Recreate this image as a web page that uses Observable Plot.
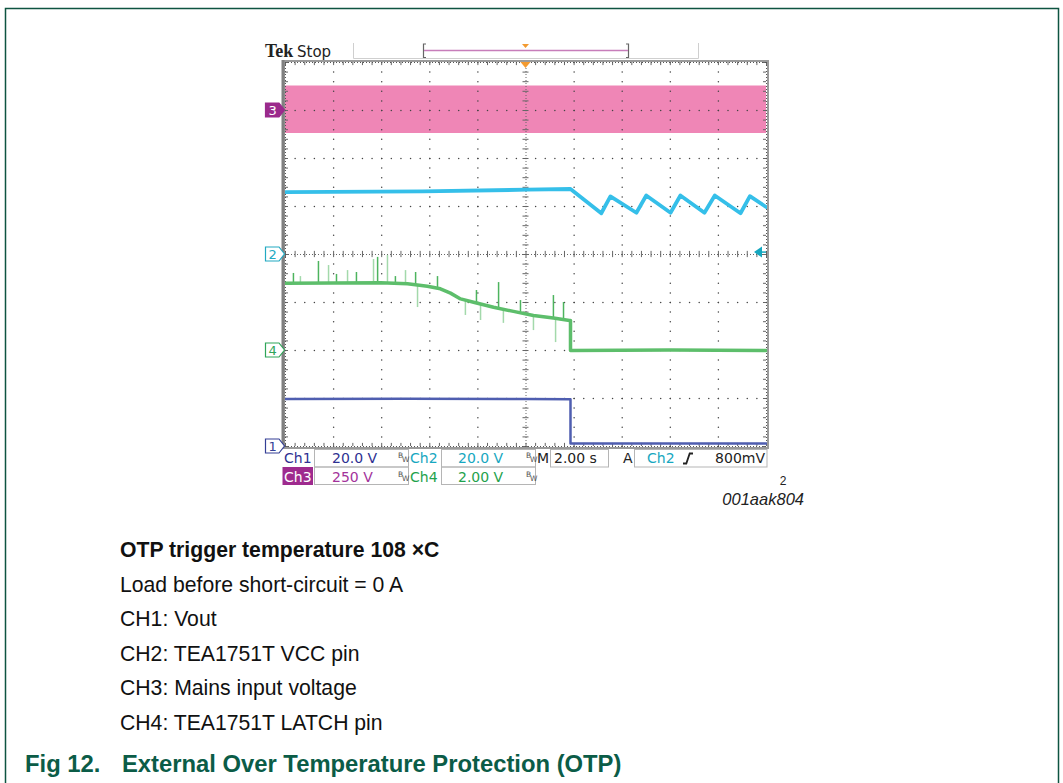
<!DOCTYPE html>
<html><head><meta charset="utf-8">
<script src="https://cdn.jsdelivr.net/npm/d3@7"></script>
<script src="https://cdn.jsdelivr.net/npm/@observablehq/plot@0.6"></script>
<style>
html,body{margin:0;padding:0;background:#fff;}
#page{position:relative;width:1063px;height:783px;overflow:hidden;background:#fff;}
#page svg{position:absolute;left:0;top:0;}
</style></head><body><div id="page"></div>
<script>
// ---------- scope settings ----------
const channels = ["Ch1", "Ch2", "Ch3", "Ch4"];
const voltsPerDiv = [20, 20, 250, 2];
const offsetDiv = [-4, 0, 3, -2];
const secPerDiv = 2;
const triggerLevel = 0.8; // V on Ch2
const voltLabels = ["20.0 V", "20.0 V", "250 V", "2.00 V"];
const timeLabel = "2.00 s";
const trigLabel = "800mV";

// ---------- CH1: Vout ----------
const ch1Time = [-10, -5, 0, 1.85, 1.85, 5, 10];
const ch1Volt = [19.8, 19.9, 19.8, 19.7, 1.25, 1.3, 1.25];

// ---------- CH2: VCC pin ----------
const ch2Time = [-10, -4.3, 0.05, 1.85, 3.13, 3.51, 4.59, 5.0, 6.01, 6.42, 7.42, 7.85, 8.92, 9.31, 10];
const ch2Volt = [26.0, 26.3, 27.0, 27.3, 17.2, 24.2, 17.4, 24.6, 17.4, 24.6, 17.4, 24.6, 17.2, 24.3, 19.7];

// ---------- CH3: mains envelope ----------
const ch3Time = [-10, 10];
const ch3Upper = [128, 128];
const ch3Lower = [-120, -120];

// ---------- CH4: LATCH pin ----------
const ch4Time = [-10, -6.05, -4.93, -4.10, -3.56, -3.14, -2.72, -2.18, -1.35, -0.52, 0.31, 1.14, 1.81, 1.85, 1.85, 6, 10];
const ch4Volt = [2.80, 2.82, 2.78, 2.68, 2.57, 2.39, 2.15, 2.01, 1.80, 1.63, 1.46, 1.35, 1.25, 1.25, 0.0, 0.02, 0.0];
const ch4SpikeTime = [-9.67, -9.38, -8.63, -8.21, -7.88, -7.42, -7.05, -6.34, -6.17, -5.76, -5.43, -5.01, -4.59, -4.51, -3.68, -2.52, -2.06, -1.89, -1.14, -0.94, -0.23, 0.31, 1.14, 1.23, 1.56];
const ch4SpikeVolt = [3.21, 3.08, 3.71, 3.54, 3.17, 3.33, 3.25, 3.79, 3.88, 3.96, 3.08, 3.33, 3.25, 1.79, 3.08, 1.46, 2.5, 1.25, 2.83, 1.13, 2.08, 0.83, 2.29, 0.33, 2.0];

// ---------- text ----------
const notes = ["OTP trigger temperature 108 \u00d7C", "Load before short-circuit = 0 A", "CH1: Vout", "CH2: TEA1751T VCC pin", "CH3: Mains input voltage", "CH4: TEA1751T LATCH pin"];
const figNum = "Fig 12.";
const figTitle = "External Over Temperature Protection (OTP)";
const figId = "001aak804";

// ---------- helpers ----------
const colors = {ch1: "#4f5eb0", ch2: "#35bfe9", ch3: "#ef86b6", ch4: "#5dbe6b"};
const toDiv = ch => v => v / voltsPerDiv[ch] + offsetDiv[ch];
const zipT = (ts, vs, ch) => ts.map((t, i) => ({t, y: toDiv(ch)(vs[i])}));
function interp(ts, vs, t) {
  for (let i = 0; i < ts.length - 1; i++) if (t >= ts[i] && t <= ts[i + 1]) {
    const f = ts[i + 1] === ts[i] ? 0 : (t - ts[i]) / (ts[i + 1] - ts[i]);
    return vs[i] + f * (vs[i + 1] - vs[i]);
  }
  return vs[vs.length - 1];
}
const ch1 = zipT(ch1Time, ch1Volt, 0);
const ch2 = zipT(ch2Time, ch2Volt, 1);
const ch3 = ch3Time.map((t, i) => ({t, lo: toDiv(2)(ch3Lower[i]), hi: toDiv(2)(ch3Upper[i])}));
const ch4 = zipT(ch4Time, ch4Volt, 3);
const spikes = ch4SpikeTime.map((t, i) => ({t, base: toDiv(3)(interp(ch4Time, ch4Volt, t)), tip: toDiv(3)(ch4SpikeVolt[i]), k: i % 2}));

// graticule
const half = 5 * secPerDiv, minorT = secPerDiv / 5;
const gridDots = [];
for (let j = -3; j <= 3; j++) if (j !== 0) for (let i = -25; i <= 25; i++) gridDots.push({t: i * minorT, y: j});
for (let k = -4; k <= 4; k++) if (k !== 0) for (let m = -20; m <= 20; m++) gridDots.push({t: k * secPerDiv, y: m * 0.2});
const minorX = d3.range(-25, 26).map(i => i * minorT);
const minorY = d3.range(-20, 21).map(m => m * 0.2);
const tickT = 0.125, tickY = 0.065;

const plot = Plot.plot({
  width: 1063, height: 783,
  marginLeft: 285, marginRight: 297, marginTop: 62, marginBottom: 337,
  x: {domain: [-half, half], axis: null},
  y: {domain: [-4, 4], axis: null},
  style: {background: "white", overflow: "visible"},
  marks: [
    Plot.areaY(ch3, {x: "t", y1: "lo", y2: "hi", fill: colors.ch3, curve: "linear"}),
    Plot.dot(gridDots, {x: "t", y: "y", r: 0.75, fill: "#444", stroke: null}),
    Plot.ruleY([0], {stroke: "#666", strokeDasharray: "1,2"}),
    Plot.ruleX([0], {stroke: "#666", strokeDasharray: "1,2"}),
    Plot.ruleX(minorX, {x: d => d, y1: -tickY, y2: tickY, stroke: "#666"}),
    Plot.ruleY(minorY, {y: d => d, x1: -tickT, x2: tickT, stroke: "#666"}),
    Plot.ruleX(minorX, {x: d => d, y1: 4, y2: 4 - tickY, stroke: "#666"}),
    Plot.ruleX(minorX, {x: d => d, y1: -4, y2: -4 + tickY, stroke: "#666"}),
    Plot.ruleY(minorY, {y: d => d, x1: -half, x2: -half + tickT, stroke: "#666"}),
    Plot.ruleY(minorY, {y: d => d, x1: half, x2: half - tickT, stroke: "#666"}),
    Plot.ruleY([4, -4], {stroke: "#555", strokeDasharray: "1,2", dy: 0}),
    Plot.ruleX([-half, half], {stroke: "#555", strokeDasharray: "1,2"}),
    Plot.line(ch2, {x: "t", y: "y", stroke: colors.ch2, strokeWidth: 3.8, curve: "linear"}),
    Plot.ruleX(spikes, {x: "t", y1: "base", y2: "tip", stroke: d => d.k ? "#a3d9ab" : "#4db45e", strokeWidth: 1.5}),
    Plot.line(ch4, {x: "t", y: "y", stroke: colors.ch4, strokeWidth: 3.5, curve: "linear"}),
    Plot.line(ch1, {x: "t", y: "y", stroke: colors.ch1, strokeWidth: 2.5, curve: "linear"}),
    Plot.frame({stroke: "#9a9a9a", strokeWidth: 2, inset: -1.5})
  ]
});
document.getElementById("page").appendChild(plot);

const xs = plot.scale("x"), ys = plot.scale("y");
const L = xs.apply(-half), R = xs.apply(half), T = ys.apply(4), B = ys.apply(-4);
const svg = d3.select(plot);
const g = svg.append("g");
const txt = (x, y, s, o = {}) => g.append("text").attr("x", x).attr("y", y)
  .attr("font-family", o.font || "DejaVu Sans").attr("font-size", o.size || 14)
  .attr("font-weight", o.weight || "normal").attr("font-style", o.style || "normal")
  .attr("fill", o.fill || "#222").attr("text-anchor", o.anchor || "start").text(s);
const rect = (x, y, w, h, o = {}) => g.append("rect").attr("x", x).attr("y", y).attr("width", w).attr("height", h)
  .attr("fill", o.fill || "none").attr("stroke", o.stroke || "#b5b5b5").attr("stroke-width", o.sw || 1);

// page frame
rect(5.5, 8.5, 1053, 800, {stroke: "#0e5441", sw: 1.5});

// left edge of screen darker
g.append("line").attr("x1", L - 2).attr("x2", L - 2).attr("y1", T - 2).attr("y2", B + 2).attr("stroke", "#808080").attr("stroke-width", 3);

// channel markers
const markerSpec = [
  {ch: 2, fill: "#9b2a8c", stroke: "#9b2a8c", text: "#fff"},
  {ch: 1, fill: "#fff", stroke: "#22a9c2", text: "#22a9c2"},
  {ch: 3, fill: "#fff", stroke: "#2fa558", text: "#2fa558"},
  {ch: 0, fill: "#fff", stroke: "#343f95", text: "#343f95"}
];
for (const m of markerSpec) {
  const y = ys.apply(offsetDiv[m.ch]);
  const x0 = L - 19.5, x1 = L - 6, xt = L - 0.5;
  g.append("path").attr("d", `M${x0},${y - 7}H${x1}L${xt},${y}L${x1},${y + 7}H${x0}Z`)
    .attr("fill", m.fill).attr("stroke", m.stroke).attr("stroke-width", 1.2);
  txt((x0 + x1) / 2 + 0.5, y + 5, channels[m.ch].slice(2), {size: 13, fill: m.text, anchor: "middle"});
}

// trigger position marker & trigger level arrow
const xt0 = xs.apply(0);
g.append("path").attr("d", `M${xt0 - 5},${T}L${xt0 + 5},${T}L${xt0},${T + 6}Z`).attr("fill", "#f39a30");
const yTrig = ys.apply(triggerLevel / voltsPerDiv[1] + offsetDiv[1]);
g.append("path").attr("d", `M${R - 12},${yTrig}L${R - 4},${yTrig - 5.5}L${R - 4},${yTrig + 5.5}Z`).attr("fill", "#14a7bf");
g.append("line").attr("x1", R - 6).attr("x2", R).attr("y1", yTrig).attr("y2", yTrig).attr("stroke", "#14a7bf").attr("stroke-width", 1.5);

// top status bar
txt(265, 57, "Tek", {font: "Liberation Serif", weight: "bold", size: 18, fill: "#222"});
txt(297, 57, "Stop", {size: 15, fill: "#222"});
g.append("path").attr("d", "M353.5,43V58.5H698.5V43").attr("fill", "none").attr("stroke", "#cfcfcf").attr("stroke-width", 1);
g.append("path").attr("d", "M426,44H423.5V57.5H426M626,44H628.5V57.5H626").attr("fill", "none").attr("stroke", "#666").attr("stroke-width", 1.2);
g.append("line").attr("x1", 424).attr("x2", 628).attr("y1", 50.5).attr("y2", 50.5).attr("stroke", "#c77dba").attr("stroke-width", 1.5);
g.append("path").attr("d", `M${xt0 - 3.5},44L${xt0 + 3.5},44L${xt0},48Z`).attr("fill", "#f39a30");

// readouts
const chCol = ["#2e3192", "#17a7c0", "#a3339b", "#1ea24c"];
const bw = (x, y) => { txt(x, y - 5, "B", {size: 7.5, fill: "#555"}); txt(x + 4, y - 1, "W", {size: 7.5, fill: "#555"}); };
const r1 = 463, r2 = 481.5;
// row 1
txt(284, r1, channels[0], {fill: chCol[0]});
rect(314.5, 449.5, 94, 17.5); txt(332, r1, voltLabels[0], {fill: chCol[0]}); bw(398, r1);
txt(410, r1, channels[1], {fill: chCol[1]});
rect(441.5, 449.5, 94, 17.5); txt(458, r1, voltLabels[1], {fill: chCol[1]}); bw(526, r1);
txt(537, r1, "M", {fill: "#222"});
rect(550.5, 449.5, 58, 17.5); txt(554, r1, timeLabel, {fill: "#222"});
txt(623, r1, "A", {fill: "#222"});
rect(634.5, 449.5, 132.5, 17.5); txt(647, r1, channels[1], {fill: chCol[1]});
g.append("path").attr("d", "M683,463.5H686.3L689.7,453.5H693").attr("fill", "none").attr("stroke", "#222").attr("stroke-width", 1.8);
txt(765, r1, trigLabel, {fill: "#222", anchor: "end"});
// row 2
rect(283, 467.5, 29.5, 17, {fill: "#9e2a8e", stroke: "#9e2a8e"}); txt(284, r2, channels[2], {fill: "#fff"});
rect(314.5, 467, 94, 17.5); txt(332, r2, voltLabels[2], {fill: chCol[2]}); bw(398, r2);
txt(410, r2, channels[3], {fill: chCol[3]});
rect(441.5, 467, 94, 17.5); txt(458, r2, voltLabels[3], {fill: chCol[3]}); bw(526, r2);

// figure ids
txt(783, 485, "2", {font: "Liberation Sans", size: 12, fill: "#222", anchor: "middle"});
txt(804, 505, figId, {font: "Liberation Sans", size: 16.5, style: "italic", fill: "#222", anchor: "end"});

// notes
const baselines = [557, 592, 626, 661, 695, 730];
notes.forEach((s, i) => txt(120, baselines[i], s, {font: "Liberation Sans", size: 21.2, weight: i === 0 ? "bold" : "normal", fill: "#111"}));
txt(25, 772, figNum, {font: "Liberation Sans", size: 23.8, weight: "bold", fill: "#0b5c47"});
txt(122, 772, figTitle, {font: "Liberation Sans", size: 23.8, weight: "bold", fill: "#0b5c47"});
</script></body></html>
